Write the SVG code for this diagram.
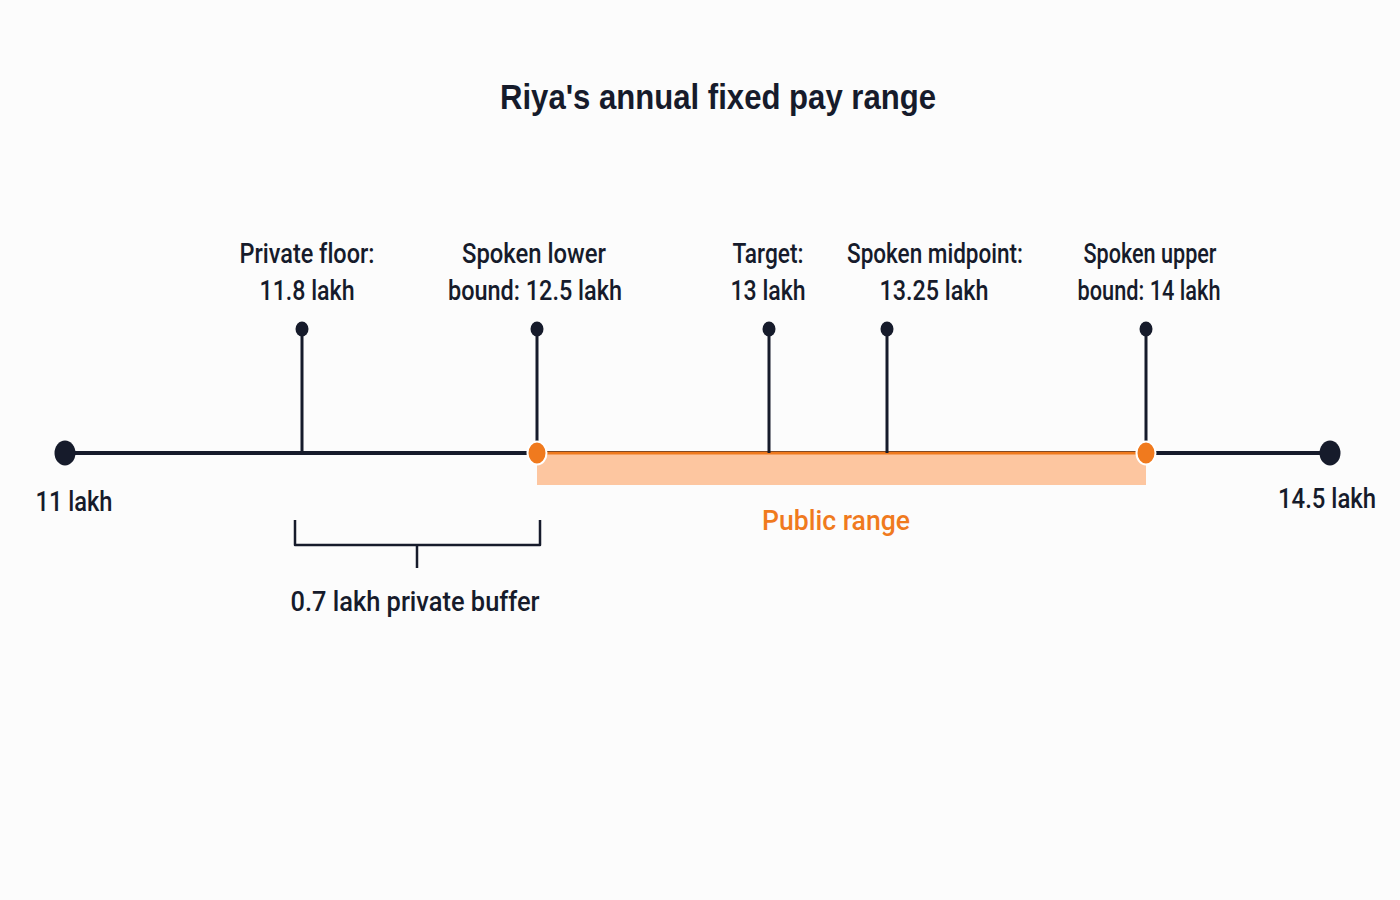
<svg xmlns="http://www.w3.org/2000/svg" width="1400" height="900" viewBox="0 0 1400 900">
<style>
text{font-family:Roboto,"Liberation Sans",sans-serif;fill:#161b2b;text-anchor:middle;font-weight:500;font-size:28px;font-variant-ligatures:none}
.title{font-family:"Liberation Sans",Arial,sans-serif;font-weight:700;font-size:35px}
.orange{fill:#f07a1e}
.tick{stroke:#161b2b;stroke-width:3;fill:none}
.axis{stroke:#161b2b;stroke-width:4;fill:none}
.dot{fill:#161b2b}
</style>
<rect width="1400" height="900" fill="#fcfcfc"/>
<text class="title" x="718" y="109" textLength="436" lengthAdjust="spacingAndGlyphs">Riya's annual fixed pay range</text>
<g id="connectors">
<line class="axis" x1="65" y1="453" x2="1330" y2="453"/>
<rect x="537" y="453" width="609" height="32" fill="#fdc6a0"/>
<line x1="537" y1="453" x2="1146" y2="453" stroke="#f07a1e" stroke-width="3"/>
<path d="M295 520 V545 H540 V520 M417 545 V568" fill="none" stroke="#161b2b" stroke-width="2.5" stroke-linejoin="round"/>
</g>
<g id="end-left"><ellipse class="dot" cx="65" cy="453" rx="10.5" ry="12.5"/><text x="74" y="511" textLength="77" lengthAdjust="spacingAndGlyphs">11 lakh</text></g>
<g id="end-right"><ellipse class="dot" cx="1330" cy="453" rx="10.5" ry="12.5"/><text x="1327" y="508" textLength="98" lengthAdjust="spacingAndGlyphs">14.5 lakh</text></g>
<g id="private-floor">
<line class="tick" x1="302" y1="329" x2="302" y2="453"/><ellipse class="dot" cx="302" cy="329" rx="6.5" ry="7.5"/>
<text x="307" y="263" textLength="135" lengthAdjust="spacingAndGlyphs">Private floor:</text>
<text x="307" y="300" textLength="95" lengthAdjust="spacingAndGlyphs">11.8 lakh</text>
</g>
<g id="lower-bound">
<line class="tick" x1="537" y1="329" x2="537" y2="453"/><ellipse class="dot" cx="537" cy="329" rx="6.5" ry="7.5"/>
<ellipse cx="537" cy="453" rx="9.5" ry="11.5" fill="#f07a1e" stroke="#ffffff" stroke-width="2"/>
<text x="534" y="263" textLength="144" lengthAdjust="spacingAndGlyphs">Spoken lower</text>
<text x="535" y="300" textLength="174" lengthAdjust="spacingAndGlyphs">bound: 12.5 lakh</text>
</g>
<g id="target">
<line class="tick" x1="769" y1="329" x2="769" y2="453"/><ellipse class="dot" cx="769" cy="329" rx="6.5" ry="7.5"/>
<text x="768" y="263" textLength="71" lengthAdjust="spacingAndGlyphs">Target:</text>
<text x="768" y="300" textLength="75" lengthAdjust="spacingAndGlyphs">13 lakh</text>
</g>
<g id="midpoint">
<line class="tick" x1="887" y1="329" x2="887" y2="453"/><ellipse class="dot" cx="887" cy="329" rx="6.5" ry="7.5"/>
<text x="935" y="263" textLength="176" lengthAdjust="spacingAndGlyphs">Spoken midpoint:</text>
<text x="934" y="300" textLength="109" lengthAdjust="spacingAndGlyphs">13.25 lakh</text>
</g>
<g id="upper-bound">
<line class="tick" x1="1146" y1="329" x2="1146" y2="453"/><ellipse class="dot" cx="1146" cy="329" rx="6.5" ry="7.5"/>
<ellipse cx="1146" cy="453" rx="9.5" ry="11.5" fill="#f07a1e" stroke="#ffffff" stroke-width="2"/>
<text x="1150" y="263" textLength="133" lengthAdjust="spacingAndGlyphs">Spoken upper</text>
<text x="1149" y="300" textLength="143" lengthAdjust="spacingAndGlyphs">bound: 14 lakh</text>
</g>
<g id="public-range"><text class="orange" x="836" y="530" textLength="148" lengthAdjust="spacingAndGlyphs">Public range</text></g>
<g id="buffer"><text x="415" y="611" textLength="249" lengthAdjust="spacingAndGlyphs">0.7 lakh private buffer</text></g>
</svg>
